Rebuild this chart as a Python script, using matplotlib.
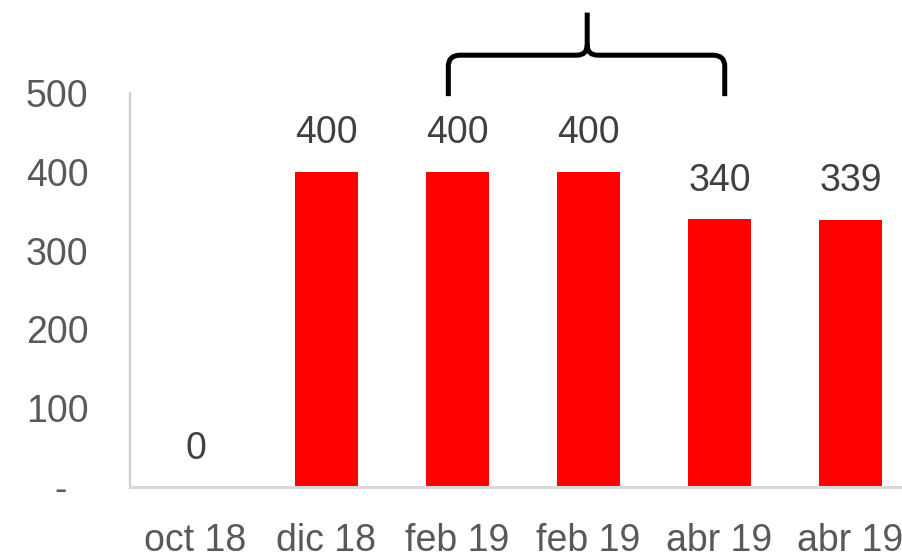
import matplotlib
matplotlib.use("Agg")
import matplotlib.pyplot as plt
from matplotlib.path import Path
from matplotlib.patches import PathPatch

plt.rcParams['font.family'] = ['Liberation Sans', 'DejaVu Sans']

categories = ["oct 18", "dic 18", "feb 19", "feb 19", "abr 19", "abr 19"]
values = [0, 400, 400, 400, 340, 339]
value_labels = ["0", "400", "400", "400", "340", "339"]
y_ticks = [0, 100, 200, 300, 400, 500]
y_tick_labels = ["-  ", "100", "200", "300", "400", "500"]

W, H = 903, 555
fig = plt.figure(figsize=(W / 100, H / 100), dpi=100)
# axes spans x from -0.5 to 5.5; right side runs past the figure edge
ax = fig.add_axes([130 / W, 68 / H, 786 / W, 394 / H])

x = list(range(len(categories)))
ax.bar(x, values, width=0.48, color="#ff0000", edgecolor="none", zorder=2)
# the zero-height bar shows as a faint line on the axis
ax.bar([0], [0], width=0.48, color="none", edgecolor="#f4b8b8", linewidth=1.0, zorder=3)

ax.set_xlim(-0.5, 5.5)
ax.set_ylim(0, 500)
ax.set_yticks(y_ticks)
ax.set_yticklabels(y_tick_labels)
ax.set_xticks(x)
ax.set_xticklabels(categories)
ax.tick_params(axis="both", length=0, labelsize=27, labelcolor="#595959")
ax.tick_params(axis="y", pad=30)
ax.tick_params(axis="x", pad=26)

for side in ("top", "right"):
    ax.spines[side].set_visible(False)
ax.spines["left"].set_color("#cfcfcf")
ax.spines["left"].set_linewidth(1.6)
ax.spines["bottom"].set_color("#d9d9d9")
ax.spines["bottom"].set_linewidth(2.2)
ax.spines["bottom"].set_zorder(4)

for xi, v, lab in zip(x, values, value_labels):
    ax.annotate(lab, (xi, v), xytext=(0, 20.5), textcoords="offset points",
                ha="center", va="baseline", fontsize=27, color="#404040")

# curly brace above the middle bars
x0, x1, xc = 1.93, 4.04, 2.99
y_bot, y_h, y_top = 496, 548, 602
rx, ry = 0.09, 14
rxc, ryc = 0.08, 13
verts = [
    (x0, y_bot), (x0, y_h - ry), (x0, y_h), (x0 + rx, y_h),
    (xc - rxc, y_h), (xc, y_h), (xc, y_h + ryc), (xc, y_top),
    (x1, y_bot), (x1, y_h - ry), (x1, y_h), (x1 - rx, y_h),
    (xc + rxc, y_h), (xc, y_h), (xc, y_h + ryc),
]
codes = [
    Path.MOVETO, Path.LINETO, Path.CURVE3, Path.CURVE3,
    Path.LINETO, Path.CURVE3, Path.CURVE3, Path.LINETO,
    Path.MOVETO, Path.LINETO, Path.CURVE3, Path.CURVE3,
    Path.LINETO, Path.CURVE3, Path.CURVE3,
]
brace = PathPatch(Path(verts, codes), facecolor="none", edgecolor="black",
                  linewidth=3.6, capstyle="butt", joinstyle="round", clip_on=False, zorder=5)
ax.add_patch(brace)

fig.savefig("out.png", dpi=100)
